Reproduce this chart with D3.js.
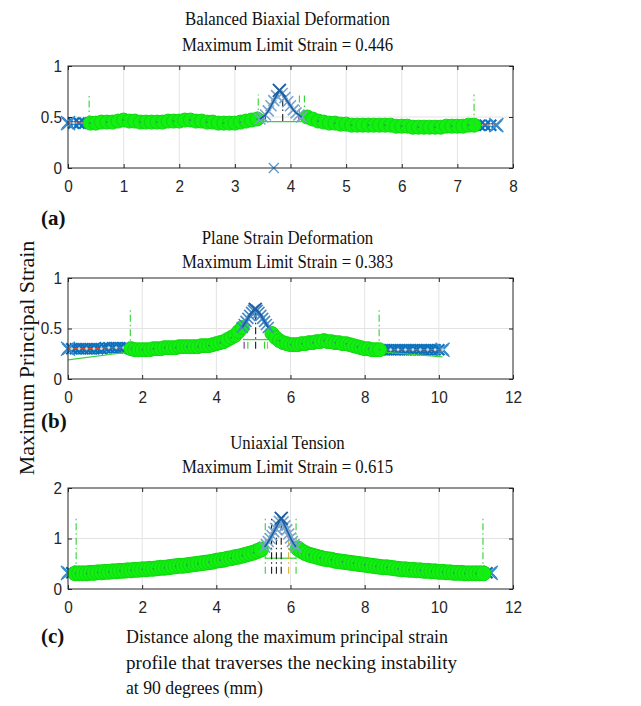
<!DOCTYPE html>
<html><head><meta charset="utf-8">
<script src="https://cdn.jsdelivr.net/npm/d3@7"></script>
<style>body{margin:0;background:#fff} svg{display:block}</style>
</head><body>
<svg id="chart" width="641" height="706"></svg>
<script>
// ---------------- DATA ----------------
const sampleStep = 0.1; // mm between profile samples

// (a) Balanced biaxial: strain profile, 0.0 .. 7.7 mm
const strainA = [
 .44,.44,.44,.44,.44,.44,.45,.45,.45,.46,
 .47,.46,.46,.45,.45,.45,.45,.45,.46,.46,
 .46,.47,.47,.46,.46,.45,.45,.44,.44,.44,
 .44,.45,.46,.47,.48,.50,.57,.66,.76,.69,
 .61,.54,.50,.50,.48,.46,.45,.44,.44,.43,
 .43,.42,.42,.42,.42,.42,.42,.42,.42,.41,
 .41,.41,.40,.40,.40,.40,.40,.40,.41,.41,
 .41,.41,.42,.42,.42,.42,.42,.42];
const peakDistA   = [3.45,3.50,3.55,3.60,3.65,3.70,3.75,3.80,3.85,3.90,3.95,4.00,4.05,4.10,4.15,4.20];
const peakStrainA = [0.48,0.50,0.52,0.56,0.61,0.66,0.71,0.76,0.73,0.69,0.65,0.61,0.57,0.54,0.52,0.50];

// (b) Plane strain: 0.0 .. 10.1 mm
const strainB = [
 .30,.30,.30,.30,.30,.30,.30,.30,.30,.30,
 .31,.31,.31,.31,.31,.31,.31,.30,.29,.29,
 .29,.29,.29,.30,.30,.30,.31,.31,.31,.31,
 .32,.32,.32,.32,.32,.32,.33,.33,.33,.34,
 .35,.36,.37,.39,.41,.43,.47,.51,.56,.62,
 .67,.67,.62,.56,.50,.45,.41,.38,.36,.35,
 .34,.34,.34,.35,.35,.36,.36,.37,.37,.38,
 .37,.37,.36,.36,.35,.35,.34,.33,.32,.31,
 .30,.30,.29,.29,.29,.29,.29,.29,.29,.29,
 .29,.29,.29,.29,.29,.29,.29,.29,.29,.29,.29,.29];
const peakDistB   = [4.70,4.75,4.80,4.85,4.90,4.95,5.00,5.05,5.10,5.15,5.20,5.25,5.30,5.35,5.40];
const peakStrainB = [0.51,0.54,0.57,0.60,0.63,0.66,0.68,0.69,0.68,0.66,0.63,0.60,0.57,0.54,0.51];

// (c) Uniaxial tension: 0.0 .. 11.4 mm
const strainC = [
 .32,.32,.31,.31,.31,.31,.32,.32,.33,.33,
 .34,.34,.35,.35,.36,.36,.37,.37,.38,.38,
 .39,.39,.40,.40,.41,.42,.42,.43,.44,.45,
 .46,.46,.47,.48,.49,.50,.51,.52,.53,.54,
 .56,.57,.58,.60,.61,.63,.64,.66,.68,.70,
 .72,.75,.78,.83,.94,1.06,1.20,1.34,1.33,1.17,
 1.01,.88,.80,.75,.71,.68,.66,.64,.62,.60,
 .59,.58,.56,.55,.54,.53,.52,.51,.50,.49,
 .48,.47,.46,.45,.44,.43,.43,.42,.41,.40,
 .39,.39,.38,.38,.37,.37,.36,.36,.35,.35,
 .34,.34,.33,.33,.32,.32,.32,.31,.31,.31,
 .31,.31,.31,.32,.32];
const peakDistC   = [5.30,5.35,5.40,5.45,5.50,5.55,5.60,5.65,5.70,5.75,5.80,5.85,5.90,5.95,6.00,6.05,6.10,6.15];
const peakStrainC = [0.83,0.88,0.94,1.00,1.06,1.13,1.20,1.27,1.34,1.40,1.33,1.25,1.17,1.09,1.01,0.94,0.88,0.83];

// region limits [blue end, green end] and peak window [start, end]
const regionsA = [0.4, 7.3], peakWinA = [3.45, 4.2];
const regionsB = [1.7, 8.4], peakWinB = [4.72, 5.42];
const regionsC = [0.2, 11.2], peakWinC = [5.3, 6.15];

// thin green fit lines: [x1, y1, x2, y2]
const fitA = [[3.5,0.455,4.2,0.455]];
const fitB = [[0,0.19,1.7,0.27],[8.4,0.27,10.1,0.22],[4.72,0.39,5.42,0.39]];
const fitC = [[5.32,0.61,6.15,0.61]];

// vertical dash-dot markers: [x, yFrom, yTo, kind]
const vertA = [[0.38,0.45,0.72,'g'],[3.42,0.47,0.72,'g'],[4.16,0.50,0.72,'g'],[4.25,0.50,0.72,'g'],[7.30,0.42,0.72,'g'],
               [3.86,0.46,0.75,'k'],[3.55,0.46,0.55,'p'],[4.15,0.46,0.53,'p']];
const vertB = [[1.68,0.28,0.70,'g'],[8.39,0.28,0.70,'g'],[5.06,0.30,0.70,'k'],
               [4.75,0.30,0.40,'p'],[4.85,0.30,0.40,'g'],[5.30,0.30,0.40,'g'],[5.38,0.30,0.40,'y']];
const vertC = [[0.22,0.30,1.42,'g'],[11.19,0.30,1.42,'g'],[5.32,0.30,1.42,'g'],[6.15,0.30,1.42,'g'],
               [5.49,0.30,1.40,'k'],[5.62,0.30,1.10,'k'],[5.75,0.30,1.40,'k'],[5.95,0.30,1.05,'y']];

const outliersA = [[3.7, 0.0]];

const xTicksA = [0,1,2,3,4,5,6,7,8];
const xTicksBC = [0,2,4,6,8,10,12];
const yTicksAB = [0,0.5,1];
const yTicksC = [0,1,2];

const titlesA = ["Balanced Biaxial Deformation","Maximum Limit Strain = 0.446"];
const titlesB = ["Plane Strain Deformation","Maximum Limit Strain = 0.383"];
const titlesC = ["Uniaxial Tension","Maximum Limit Strain = 0.615"];
const panelLabels = ["(a)","(b)","(c)"];
const yAxisLabel = "Maximum Principal Strain";
const xAxisLabel = ["Distance along the maximum principal strain",
                    "profile that traverses the necking instability",
                    "at 90 degrees (mm)"];

// ---------------- DRAWING ----------------
const svg = d3.select("#chart");
const L = 68, R = 513;
const serif = "'Liberation Serif','Times New Roman',serif";
const sans = "'Liberation Sans',Arial,sans-serif";
const vColors = {g:'#2fd42f', k:'#1a1a1a', p:'#7e2f8e', y:'#d8b030'};

const panels = [
 {strain:strainA, xMax:8, xTicks:xTicksA, yMax:1, yTicks:yTicksAB, top:66, bottom:168,
  titles:titlesA, titleY:[25,51], label:panelLabels[0], labelY:225,
  reg:regionsA, win:peakWinA, pd:peakDistA, ps:peakStrainA, fits:fitA, verts:vertA, outl:outliersA,
  hatch:'#7aa4cb', xs:5.5, gr:7},
 {strain:strainB, xMax:12, xTicks:xTicksBC, yMax:1, yTicks:yTicksAB, top:278, bottom:379,
  titles:titlesB, titleY:[244,268], label:panelLabels[1], labelY:428,
  reg:regionsB, win:peakWinB, pd:peakDistB, ps:peakStrainB, fits:fitB, verts:vertB, outl:[],
  hatch:'#4a88c4', xs:5.5, gr:7},
 {strain:strainC, xMax:12, xTicks:xTicksBC, yMax:2, yTicks:yTicksC, top:488, bottom:589,
  titles:titlesC, titleY:[449,473], label:panelLabels[2], labelY:643,
  reg:regionsC, win:peakWinC, pd:peakDistC, ps:peakStrainC, fits:fitC, verts:vertC, outl:[],
  hatch:'#7aa4cb', xs:5.5, gr:7.5}
];

function xPath(s){ return `M${-s},${-s}L${s},${s}M${-s},${s}L${s},${-s}`; }

// natural text widths measured once, then compressed slightly like the reference
function squeeze(sel, factor){
  const w = sel.node().getComputedTextLength();
  sel.attr("textLength", w*factor).attr("lengthAdjust","spacingAndGlyphs");
}

panels.forEach(p => {
  const x = d3.scaleLinear().domain([0,p.xMax]).range([L,R]);
  const y = d3.scaleLinear().domain([0,p.yMax]).range([p.bottom,p.top]);
  const g = svg.append("g");
  const pts = p.strain.map((v,i)=>({d:+(i*sampleStep).toFixed(2), v}));

  // grid
  g.append("g").selectAll("line").data(p.xTicks.slice(1,-1)).join("line")
    .attr("x1",d=>x(d)).attr("x2",d=>x(d)).attr("y1",p.top).attr("y2",p.bottom)
    .attr("stroke","#e3e3e3").attr("stroke-width",1);
  g.append("g").selectAll("line").data(p.yTicks.slice(1,-1)).join("line")
    .attr("x1",L).attr("x2",R).attr("y1",d=>y(d)).attr("y2",d=>y(d))
    .attr("stroke","#e3e3e3").attr("stroke-width",1);

  // blue end bands
  const blue = pts.filter(d => d.d <= p.reg[0]+1e-9 || d.d >= p.reg[1]-1e-9);
  const leftBlue = blue.filter(d=>d.d <= p.reg[0]+1e-9), rightBlue = blue.filter(d=>d.d >= p.reg[1]-1e-9);
  g.append("g").selectAll("path").data(blue).join("path")
    .attr("d", xPath(p.xs)).attr("transform",d=>`translate(${x(d.d)},${y(d.v)})`)
    .attr("stroke","#0b6fbd").attr("stroke-width",2.2).attr("fill","none");
  [leftBlue[0], rightBlue[rightBlue.length-1]].forEach(d=>{
    g.append("path").attr("d",xPath(7)).attr("transform",`translate(${x(d.d)},${y(d.v)})`)
      .attr("stroke","#3f8fcf").attr("stroke-width",1.6).attr("fill","none");
  });
  const ln = d3.line().x(d=>x(d.d)).y(d=>y(d.v));
  [leftBlue,rightBlue].forEach(seg=>{
    g.append("path").attr("d",ln(seg)).attr("stroke","#d9531e").attr("stroke-width",1.2).attr("fill","none");
    g.append("g").selectAll("circle").data(seg.filter((d,i)=>i%2===1)).join("circle")
      .attr("cx",d=>x(d.d)).attr("cy",d=>y(d.v)).attr("r",1.4).attr("fill","#c9d9e6");
  });

  // green fit lines
  g.append("g").selectAll("line").data(p.fits).join("line")
    .attr("x1",d=>x(d[0])).attr("y1",d=>y(d[1])).attr("x2",d=>x(d[2])).attr("y2",d=>y(d[3]))
    .attr("stroke","#3ad23a").attr("stroke-width",1.2);

  // green circles
  const green = pts.filter(d => d.d >= p.reg[0]-1e-9 && d.d <= p.reg[1]+1e-9 && (d.d < p.win[0] || d.d > p.win[1]));
  g.append("g").selectAll("circle").data(green).join("circle")
    .attr("cx",d=>x(d.d)).attr("cy",d=>y(d.v)).attr("r",p.gr)
    .attr("fill","#11f011").attr("stroke","#0fd80f").attr("stroke-width",1);
  g.append("g").selectAll("circle").data(green.filter((d,i)=>i%3===0)).join("circle")
    .attr("cx",d=>x(d.d)).attr("cy",d=>y(d.v)).attr("r",0.9).attr("fill","#3a8c7a");

  // vertical dash-dot lines
  g.append("g").selectAll("line").data(p.verts).join("line")
    .attr("x1",d=>x(d[0])).attr("x2",d=>x(d[0])).attr("y1",d=>y(d[1])).attr("y2",d=>y(d[2]))
    .attr("stroke",d=>vColors[d[3]]).attr("stroke-width",1.1).attr("stroke-dasharray","7,3,1.5,3");

  // peak hatch markers + line
  const peak = p.pd.map((d,i)=>({d, v:p.ps[i]}));
  g.append("g").selectAll("path").data(peak).join("path")
    .attr("d", xPath(5.5)).attr("transform",d=>`translate(${x(d.d)},${y(d.v)})`)
    .attr("stroke",p.hatch).attr("stroke-width",1.6).attr("fill","none");
  g.append("path").attr("d",ln(peak)).attr("stroke","#1560a8").attr("stroke-width",1.6).attr("fill","none");
  const top = peak.reduce((a,b)=>b.v>a.v?b:a);
  g.append("path").attr("d",xPath(6.5)).attr("transform",`translate(${x(top.d)},${y(top.v)})`)
    .attr("stroke","#1f5f9f").attr("stroke-width",1.8).attr("fill","none");

  // outliers
  g.append("g").selectAll("path").data(p.outl).join("path")
    .attr("d", xPath(5)).attr("transform",d=>`translate(${x(d[0])},${y(d[1])})`)
    .attr("stroke","#5b9bd5").attr("stroke-width",1.3).attr("fill","none");

  // axes (ticks inward)
  const ax = g.append("g");
  const bottomAx = d3.axisBottom(x).tickValues(p.xTicks).tickSize(-4).tickPadding(12).tickFormat(d=>String(d));
  const topAx = d3.axisTop(x).tickValues(p.xTicks).tickSize(-4).tickFormat("");
  const leftAx = d3.axisLeft(y).tickValues(p.yTicks).tickSize(-4).tickPadding(6).tickFormat(d=>String(d));
  const rightAx = d3.axisRight(y).tickValues(p.yTicks).tickSize(-4).tickFormat("");
  [[bottomAx,`translate(0,${p.bottom})`],[topAx,`translate(0,${p.top})`],
   [leftAx,`translate(${L},0)`],[rightAx,`translate(${R},0)`]].forEach(([a,t])=>{
    const s = ax.append("g").attr("transform",t).call(a);
    s.select(".domain").remove();
    s.selectAll(".tick line").attr("stroke","#262626");
    s.selectAll("text").attr("font-size",17).attr("fill","#262626").attr("font-family",sans)
      .each(function(){ squeeze(d3.select(this), 0.9); });
  });
  g.append("rect").attr("x",L).attr("y",p.top).attr("width",R-L).attr("height",p.bottom-p.top)
    .attr("fill","none").attr("stroke","#262626").attr("stroke-width",1);

  // titles
  p.titles.forEach((t,i)=>{
    const tt = svg.append("text").attr("x",(L+R)/2-3).attr("y",p.titleY[i]).attr("text-anchor","middle")
      .attr("font-family",serif).attr("font-size",19.5).attr("fill","#111").text(t);
    squeeze(tt, 0.86);
  });
  svg.append("text").attr("x",41).attr("y",p.labelY).attr("font-family",serif)
    .attr("font-weight","bold").attr("font-size",21).attr("fill","#111").text(p.label);
});

// y axis label
svg.append("text").attr("transform","translate(34,358) rotate(-90)").attr("text-anchor","middle")
  .attr("font-family",serif).attr("font-size",22).attr("fill","#111").text(yAxisLabel);

// x axis caption
const capLen = [322, 331, 137];
xAxisLabel.forEach((t,i)=>{
  svg.append("text").attr("x",126).attr("y",643+i*25.5).attr("font-family",serif)
    .attr("font-size",18.5).attr("fill","#111").attr("textLength",capLen[i])
    .attr("lengthAdjust","spacingAndGlyphs").text(t);
});
</script>
</body></html>
